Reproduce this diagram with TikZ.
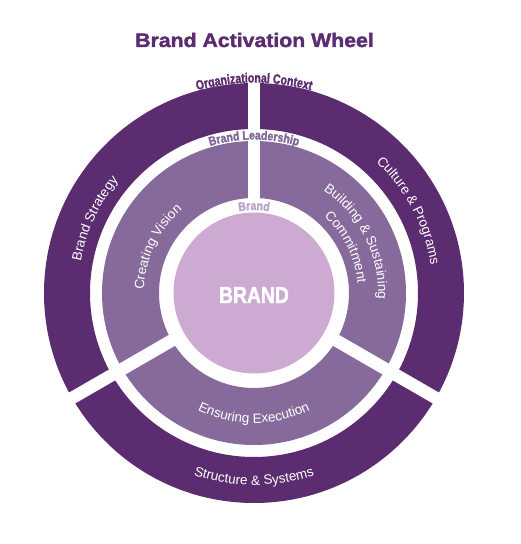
\documentclass[tikz,border=0pt]{standalone}
\usepackage{fontspec}
\setmainfont{Liberation Sans}
\newfontfamily\heavyf[FakeStretch=0.84,FakeBold=1.6]{Liberation Sans}
\newfontfamily\heavyg[FakeStretch=0.78,FakeBold=1.6]{Liberation Sans}
\newfontfamily\titlef[FakeStretch=1.09,FakeBold=1.8]{Liberation Sans}
\usetikzlibrary{decorations.text}
\definecolor{dkp}{HTML}{5B2C6F}
\definecolor{mdp}{HTML}{866A9C}
\definecolor{ltp}{HTML}{CCAAD2}
\definecolor{ldr}{HTML}{7E6699}
\definecolor{brl}{HTML}{B9A2CA}
\begin{document}
\begin{tikzpicture}[x=1pt,y=1pt,
  gapline/.style={white, line width=12.5pt},
  lbl/.style={decorate, decoration={text along path, text align=center, text color=white,
      text={|\fontsize{13.5}{16}\selectfont|#1}}},
  toplbl/.style 2 args={decorate, decoration={text along path, text align=center, text color=#1,
      text={|\heavyf\bfseries\fontsize{12.5}{15}\selectfont|#2}}}
]
\useasboundingbox (-254,-251) rectangle (266,293);
% rings
\fill[dkp, even odd rule] (0,0) circle[radius=210] (0,0) circle[radius=164];
\fill[mdp, even odd rule] (0,0) circle[radius=152] (0,0) circle[radius=95];
\fill[ltp] (0,0) circle[radius=80.5];
% gaps
\coordinate (c0) at (0,0);
\draw[gapline] (90:86) -- (90:222);
\draw[gapline] (210:86) -- (210:222);
\draw[gapline] (330:86) -- (330:222);
% title
\node[font=\titlef\bfseries\fontsize{19.5}{21}\selectfont, text=dkp, anchor=base] (title) at (0.5,246) {Brand Activation Wheel};
% centre
\node[font=\heavyf\bfseries\fontsize{23}{23}\selectfont, text=white, anchor=base] (brand) at (0,-10) {BRAND};
% top labels
\path[decorate, decoration={text along path, text align=center, text color=dkp,
      text={|\heavyg\bfseries\fontsize{13.5}{15}\selectfont|Organizational Context}}]
  (135:210.5) arc[start angle=135, end angle=45, radius=210.5];
\path[toplbl={ldr}{Brand Leadership}] (135:153.5) arc[start angle=135, end angle=45, radius=153.5];
\path[toplbl={brl}{Brand}] (130:83) arc[start angle=130, end angle=50, radius=83];
% outer ring labels
\path[lbl={Brand Strategy}] (200:176) arc[start angle=200, end angle=110, radius=176];
\path[lbl={Culture {\&} Programs}] (73:179) arc[start angle=73, end angle=-17, radius=179];
\path[lbl={Structure {\&} Systems}] (215:192) arc[start angle=215, end angle=325, radius=192];
% middle ring labels
\path[lbl={Creating Vision}] (204.5:110) arc[start angle=204.5, end angle=104.5, radius=110];
\path[lbl={Building {\&} Sustaining}] (76.5:124) arc[start angle=76.5, end angle=-23.5, radius=124];
\path[lbl={Commitment}] (76.5:104) arc[start angle=76.5, end angle=-23.5, radius=104];
\path[lbl={Ensuring Execution}] (215:130) arc[start angle=215, end angle=325, radius=130];
\end{tikzpicture}
\end{document}
